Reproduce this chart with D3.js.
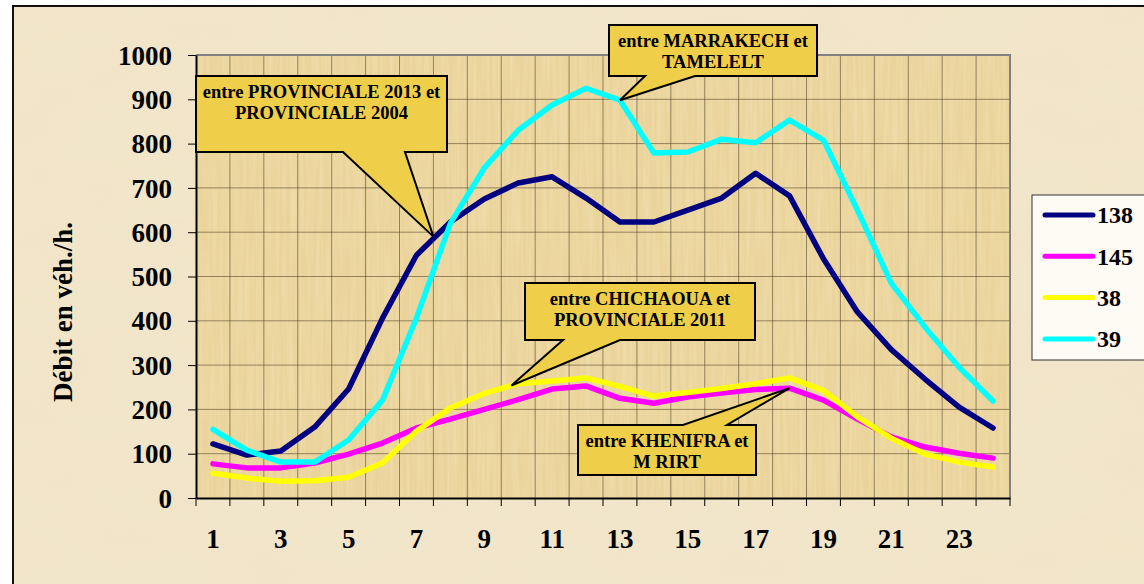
<!DOCTYPE html>
<html>
<head>
<meta charset="utf-8">
<script src="https://cdn.jsdelivr.net/npm/d3@7"></script>
<style>
  html, body { margin: 0; padding: 0; background: #fff; }
  svg { display: block; }
  text { font-family: "Liberation Serif", "Times New Roman", serif; font-weight: bold; fill: #000; }
</style>
</head>
<body>
<svg id="chart" width="1144" height="584"></svg>
<script>
// hours of the day (x categories)
var hours = d3.range(1, 25);
var xLabels = [1, 3, 5, 7, 9, 11, 13, 15, 17, 19, 21, 23];
var yTicks = [0, 100, 200, 300, 400, 500, 600, 700, 800, 900, 1000];

// traffic per hour for each counting station (veh/h)
var s138 = [122, 97, 106, 160, 246, 406, 548, 623, 675, 711, 725, 677, 623, 623, 650, 677, 733, 682, 540, 420, 335, 268, 205, 158];
var s145 = [77, 68, 68, 79, 99, 124, 158, 178, 200, 222, 246, 253, 225, 214, 228, 237, 245, 248, 221, 178, 138, 115, 101, 90];
var s38  = [56, 45, 38, 39, 47, 79, 151, 203, 236, 258, 264, 271, 252, 230, 238, 247, 258, 271, 243, 183, 135, 99, 81, 70];
var s39  = [155, 108, 81, 81, 131, 221, 406, 620, 745, 830, 887, 925, 898, 779, 781, 810, 802, 853, 808, 650, 485, 385, 295, 219];

var seriesNames = ["138", "145", "38", "39"];
var seriesValues = [s138, s145, s38, s39];
var seriesColors = ["#000080", "#ff00ff", "#ffff00", "#00ffff"];

// callouts: text lines, anchor (hour, value) and box placement in px
var notes = [
  {lines: ["entre PROVINCIALE 2013 et", "PROVINCIALE 2004"], hour: 7.5, value: 590,
   box: [196, 76, 447, 152], side: "bottom", base: [343, 405]},
  {lines: ["entre MARRAKECH et", "TAMELELT"], hour: 13, value: 898,
   box: [609, 25, 817, 76], side: "bottom", base: [645, 695]},
  {lines: ["entre CHICHAOUA et", "PROVINCIALE 2011"], hour: 9.8, value: 254,
   box: [525, 283, 755, 340], side: "bottom", base: [563, 620]},
  {lines: ["entre KHENIFRA et", "M RIRT"], hour: 18, value: 248,
   box: [578, 425, 756, 475], side: "top", base: [683, 727]}
];

var svg = d3.select("#chart"),
    margin = {top: 55, right: 134, bottom: 86, left: 196},
    W = +svg.attr("width"), H = +svg.attr("height"),
    x0 = margin.left, x1 = W - margin.right, y0 = H - margin.bottom, y1 = margin.top;

var defs = svg.append("defs");
var f1 = defs.append("filter").attr("id", "paper").attr("x", 0).attr("y", 0).attr("width", "100%").attr("height", "100%");
f1.append("feTurbulence").attr("type", "fractalNoise").attr("baseFrequency", "0.01 0.018").attr("numOctaves", 5).attr("seed", 7);
f1.append("feColorMatrix").attr("type", "matrix")
  .attr("values", "0 0 0 0 0.86  0 0 0 0 0.74  0 0 0 0 0.56  1.3 0 0 0 -0.45");
var f2 = defs.append("filter").attr("id", "streak").attr("x", 0).attr("y", 0).attr("width", "100%").attr("height", "100%");
f2.append("feTurbulence").attr("type", "fractalNoise").attr("baseFrequency", "0.3 0.012").attr("numOctaves", 2).attr("seed", 3);
f2.append("feColorMatrix").attr("type", "matrix")
  .attr("values", "0 0 0 0 0.98  0 0 0 0 0.93  0 0 0 0 0.75  1 0 0 0 -0.35");

// background parchment
svg.append("rect").attr("x", 13).attr("y", 6).attr("width", W - 13).attr("height", H - 6).attr("fill", "#f2e6ca");
svg.append("rect").attr("x", 13).attr("y", 6).attr("width", W - 13).attr("height", H - 6)
  .attr("filter", "url(#paper)").attr("opacity", 0.6);
svg.append("path").attr("d", "M13," + H + "V6H" + W).attr("fill", "none").attr("stroke", "#111").attr("stroke-width", 2);

// scales
var x = d3.scaleBand().domain(hours).range([x0, x1]);
var xc = d3.scaleLinear().domain([1, 24]).range([x(1) + x.bandwidth() / 2, x(24) + x.bandwidth() / 2]);
var y = d3.scaleLinear().domain([0, 1000]).range([y0, y1]);

// plot area
svg.append("rect").attr("x", x0).attr("y", y1).attr("width", x1 - x0).attr("height", y0 - y1).attr("fill", "#ebd49b");
svg.append("rect").attr("x", x0).attr("y", y1).attr("width", x1 - x0).attr("height", y0 - y1)
  .attr("filter", "url(#streak)").attr("opacity", 0.45);

// grid
var bounds = d3.range(0, 25).map(function(i) { return x0 + i * x.bandwidth(); });
svg.append("g").selectAll("line").data(bounds.slice(1, -1)).enter().append("line")
  .attr("x1", d => d).attr("x2", d => d).attr("y1", y1).attr("y2", y0)
  .attr("stroke", "#4a3c22").attr("stroke-opacity", 0.55).attr("stroke-width", 1);
svg.append("g").selectAll("line").data(yTicks.slice(1, -1)).enter().append("line")
  .attr("x1", x0).attr("x2", x1).attr("y1", d => y(d)).attr("y2", d => y(d))
  .attr("stroke", "#4a3c22").attr("stroke-opacity", 0.55).attr("stroke-width", 1);
svg.append("path").attr("d", "M" + x0 + "," + y1 + "H" + x1 + "V" + y0)
  .attr("fill", "none").attr("stroke", "#808080").attr("stroke-width", 2);

// axes
var yAxis = svg.append("g").attr("transform", "translate(" + x0 + ",0)")
  .call(d3.axisLeft(y).tickValues(yTicks).tickFormat(d3.format("d")).tickSize(8).tickSizeOuter(0).tickPadding(16));
yAxis.selectAll("text").style("font-size", "27px").attr("dy", "0.34em");

var xAxis = svg.append("g").attr("transform", "translate(0," + y0 + ")")
  .call(d3.axisBottom(x).tickValues(xLabels).tickSize(0).tickSizeOuter(0).tickPadding(31));
xAxis.selectAll("text").style("font-size", "27px");
svg.append("g").selectAll("line").data(bounds).enter().append("line")
  .attr("x1", d => d).attr("x2", d => d).attr("y1", y0).attr("y2", y0 + 8)
  .attr("stroke", "#000").attr("stroke-width", 1);
[yAxis, xAxis].forEach(function(a) {
  a.select(".domain").attr("stroke", "#000").attr("stroke-width", 2);
  a.selectAll(".tick line").attr("stroke", "#000");
});

svg.append("text").attr("transform", "translate(72,312) rotate(-90)")
  .attr("text-anchor", "middle").style("font-size", "27px").text("Débit en véh./h.");

// lines
var line = d3.line().x((d, i) => x(hours[i]) + x.bandwidth() / 2).y(d => y(d));
svg.append("g").selectAll("path").data(seriesValues).enter().append("path")
  .attr("d", d => line(d)).attr("fill", "none")
  .attr("stroke", (d, i) => seriesColors[i]).attr("stroke-width", 5.5)
  .attr("stroke-linejoin", "round").attr("stroke-linecap", "round");

// callouts
var note = svg.append("g").selectAll("g").data(notes).enter().append("g");
note.append("path").attr("d", function(n) {
  var b = n.box, tx = xc(n.hour), ty = y(n.value);
  if (n.side === "bottom")
    return "M" + b[0] + "," + b[1] + "H" + b[2] + "V" + b[3] + "H" + n.base[1] + "L" + tx + "," + ty +
      "L" + n.base[0] + "," + b[3] + "H" + b[0] + "Z";
  return "M" + b[0] + "," + b[1] + "H" + n.base[0] + "L" + tx + "," + ty + "L" + n.base[1] + "," + b[1] +
    "H" + b[2] + "V" + b[3] + "H" + b[0] + "Z";
}).attr("fill", "#efcf4a").attr("stroke", "#000").attr("stroke-width", 2).attr("stroke-linejoin", "miter");
note.each(function(n) {
  var g = d3.select(this), cx = (n.box[0] + n.box[2]) / 2;
  n.lines.forEach(function(t, i) {
    g.append("text").attr("x", cx).attr("y", n.box[1] + 22 + i * 21)
      .attr("text-anchor", "middle").style("font-size", "18.5px").text(t);
  });
});

// legend
var leg = svg.append("g").attr("transform", "translate(1032,195)");
leg.append("rect").attr("width", 130).attr("height", 165).attr("fill", "#fdfbf4")
  .attr("stroke", "#333").attr("stroke-width", 1);
var item = leg.selectAll(".item").data(seriesNames).enter().append("g")
  .attr("transform", (d, i) => "translate(0," + (20 + i * 41.3) + ")");
item.append("line").attr("x1", 13).attr("x2", 61).attr("stroke", (d, i) => seriesColors[i])
  .attr("stroke-width", 5).attr("stroke-linecap", "round");
item.append("text").attr("x", 65).attr("dy", "0.35em").style("font-size", "24px").text(d => d);
</script>
</body>
</html>
